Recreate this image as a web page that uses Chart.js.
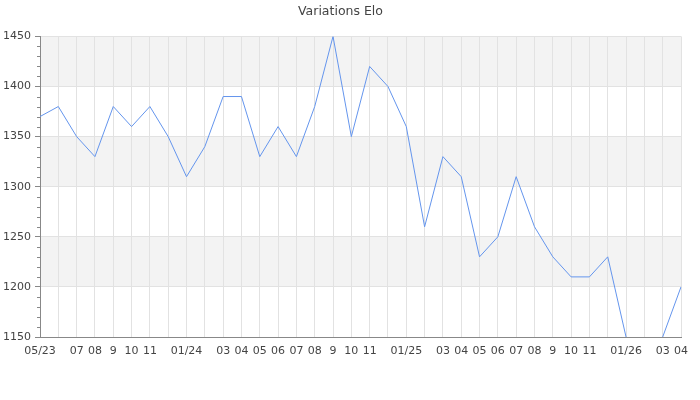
<!DOCTYPE html>
<html>
<head>
<meta charset="utf-8">
<script src="https://cdn.jsdelivr.net/npm/chart.js@4/dist/chart.umd.min.js"></script>
<style>
  html, body { margin: 0; padding: 0; background: #fff; }
  #wrap { width: 700px; height: 400px; }
</style>
</head>
<body>
<div id="wrap"><canvas id="eloChart"></canvas></div>
<script>
// ===== DATA =====

const months = [
    "2023-05", "2023-06", "2023-07", "2023-08", "2023-09", "2023-10", "2023-11", "2023-12",
    "2024-01", "2024-02", "2024-03", "2024-04", "2024-05", "2024-06", "2024-07", "2024-08",
    "2024-09", "2024-10", "2024-11", "2024-12", "2025-01", "2025-02", "2025-03", "2025-04",
    "2025-05", "2025-06", "2025-07", "2025-08", "2025-09", "2025-10", "2025-11", "2025-12",
    "2026-01", "2026-02", "2026-03", "2026-04"
];

// labels shown under the axis (empty = skipped)
const monthTicks = [
    "05/23", "", "07", "08", "9", "10", "11", "",
    "01/24", "", "03", "04", "05", "06", "07", "08",
    "9", "10", "11", "", "01/25", "", "03", "04",
    "05", "06", "07", "08", "9", "10", "11", "",
    "01/26", "", "03", "04"
];

const elo = [
    1370, 1380, 1350, 1330, 1380, 1360, 1380, 1350,
    1310, 1340, 1390, 1390, 1330, 1360, 1330, 1380,
    1450, 1350, 1420, 1400, 1360, 1260, 1330, 1310,
    1230, 1250, 1310, 1260, 1230, 1210, 1210, 1230,
    1150, 1120, 1150, 1200
];

const yMin = 1150;
const yMax = 1450;
const yStep = 50;
const yMinorStep = 10;

// ===== BANDS + MINOR TICKS =====

const bandsPlugin = {
    id: "bands",
    beforeDraw(chart) {
        const { ctx, chartArea, scales } = chart;
        const y = scales.y;
        ctx.save();
        ctx.fillStyle = "#f3f3f3";
        for (let v = yMax; v > yMin; v -= 2 * yStep) {
            const top = y.getPixelForValue(v);
            const bottom = y.getPixelForValue(v - yStep);
            ctx.fillRect(chartArea.left, top, chartArea.right - chartArea.left, bottom - top);
        }
        ctx.restore();
    },
    afterDraw(chart) {
        const { ctx, chartArea, scales } = chart;
        const y = scales.y;
        ctx.save();
        ctx.strokeStyle = "#888";
        ctx.lineWidth = 1;
        ctx.beginPath();
        for (let v = yMin; v <= yMax; v += yMinorStep) {
            if (v % yStep === 0) continue;
            const py = Math.round(y.getPixelForValue(v)) + 0.5;
            ctx.moveTo(chartArea.left - 3, py);
            ctx.lineTo(chartArea.left, py);
        }
        ctx.stroke();
        ctx.restore();
    }
};

// ===== CHART =====

new Chart(document.getElementById("eloChart"), {
    type: "line",
    data: {
        labels: months,
        datasets: [{
            data: elo,
            borderColor: "#6495ed",
            borderWidth: 1,
            pointRadius: 0,
            tension: 0,
            fill: false
        }]
    },
    options: {
        responsive: true,
        maintainAspectRatio: false,
        animation: false,
        layout: { padding: { left: 0, right: 19, top: 0, bottom: 0 } },
        plugins: {
            legend: { display: false },
            tooltip: { enabled: false },
            title: {
                display: true,
                text: "Variations Elo",
                color: "#444",
                font: { family: "DejaVu Sans", size: 12.5, weight: "normal" },
                padding: { top: 4, bottom: 17.4 }
            }
        },
        scales: {
            x: {
                offset: false,
                grid: { color: "#e2e2e2", drawTicks: false },
                border: { color: "#888" },
                ticks: {
                    autoSkip: false,
                    maxRotation: 0,
                    padding: 8,
                    color: "#444",
                    font: { family: "DejaVu Sans", size: 11 },
                    callback: (val, i) => monthTicks[i]
                },
                afterFit: s => { s.height = 63; }
            },
            y: {
                min: yMin,
                max: yMax,
                grid: { color: "#e2e2e2", tickColor: "#888", tickLength: 5 },
                border: { color: "#888" },
                ticks: {
                    stepSize: yStep,
                    padding: 4,
                    color: "#444",
                    font: { family: "DejaVu Sans", size: 11 },
                    callback: v => String(v)
                },
                afterFit: s => { s.width = 40; }
            }
        }
    },
    plugins: [bandsPlugin]
});
</script>
</body>
</html>
